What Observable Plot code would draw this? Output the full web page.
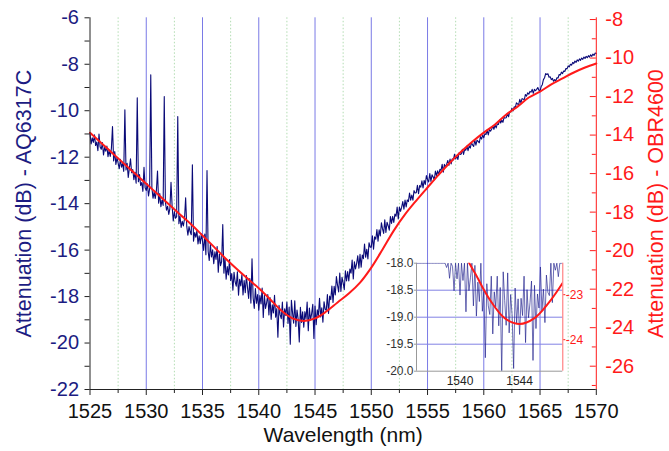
<!DOCTYPE html>
<html><head><meta charset="utf-8">
<script src="https://cdn.jsdelivr.net/npm/d3@7"></script>
<script src="https://cdn.jsdelivr.net/npm/@observablehq/plot@0.6"></script>
<style>
body{margin:0;background:#fff;}
#chart{position:relative;width:669px;height:451px;}
</style></head><body><div id="chart"></div>
<script>
// ---- data ----
const blueStart = 1525, blueStep = 0.1; // AQ6317C sampling grid (nm)
const blueValues = [
-10.97,-11.43,-11.17,-11.36,-11.04,-11.50,-11.35,-11.72,-11.00,-11.56,
-11.66,-11.37,-11.90,-11.58,-11.74,-11.52,-11.98,-11.69,-11.97,-11.63,
-10.68,-12.16,-11.76,-12.31,-12.02,-12.25,-12.50,-12.09,-12.43,-12.27,
-12.61,-9.96,-12.55,-12.26,-12.87,-12.47,-12.07,-12.67,-12.53,-12.97,
-12.65,-13.12,-9.44,-13.06,-12.75,-13.22,-13.09,-13.47,-12.43,-13.32,
-13.43,-13.15,-13.67,-13.36,-8.45,-13.31,-13.77,-13.49,-13.78,-13.43,
-12.60,-13.98,-13.57,-14.13,-13.85,-14.08,-9.39,-13.93,-14.28,-14.11,
-14.46,-14.21,-13.08,-14.12,-14.74,-14.34,-14.63,-14.56,-10.25,-14.86,
-14.55,-15.02,-14.76,-14.96,-14.65,-13.75,-14.98,-15.36,-14.99,-15.21,
-15.34,-12.33,-15.62,-15.24,-15.44,-15.17,-15.73,-15.38,-15.72,-15.30,
-15.61,-16.01,-15.31,-16.20,-12.57,-16.05,-16.45,-15.75,-16.29,-15.99,
-16.58,-16.07,-16.40,-15.85,-16.95,-16.17,-16.67,-16.49,-14.90,-16.99,
-16.35,-17.25,-16.71,-17.07,-16.41,-17.31,-17.01,-17.73,-16.95,-17.37,
-17.55,-16.93,-17.94,-17.26,-17.54,-17.05,-17.93,-17.31,-17.83,-17.10,
-17.62,-18.08,-17.22,-18.28,-16.37,-18.06,-18.51,-17.65,-18.29,-17.91,
-18.59,-17.96,-18.32,-17.63,-18.90,-17.95,-18.51,-18.27,-17.91,-18.79,
-18.04,-18.98,-18.35,-18.71,-17.94,-18.89,-18.52,-19.75,-18.38,-18.79,
-18.95,-18.24,-19.31,-18.53,-18.81,-18.24,-19.16,-18.45,-20.05,-18.16,
-18.69,-19.15,-18.18,-19.29,-18.58,-18.97,-19.95,-18.46,-19.11,-18.66,
-19.32,-18.65,-18.97,-18.24,-19.47,-18.49,-19.01,-18.73,-18.33,-19.80,
-18.41,-19.21,-18.57,-18.83,-18.07,-18.88,-18.48,-19.10,-18.22,-18.54,
-18.60,-17.91,-18.73,-17.98,-18.13,-17.55,-18.25,-17.56,-17.93,-17.14,
-17.51,-17.80,-16.99,-17.78,-17.17,-17.41,-17.70,-16.89,-17.33,-16.92,
-17.33,-16.81,-16.99,-16.43,-17.24,-16.50,-16.81,-16.57,-16.24,-16.78,
-16.18,-16.74,-16.21,-16.37,-15.74,-16.31,-15.96,-16.38,-15.68,-15.87,
-15.87,-15.38,-15.96,-15.43,-15.53,-15.12,-15.62,-15.13,-15.39,-14.82,
-15.09,-15.28,-14.70,-15.24,-14.80,-14.95,-15.14,-14.56,-14.85,-14.55,
-14.81,-14.45,-14.54,-14.15,-14.66,-14.15,-14.33,-14.15,-13.91,-14.24,
-13.85,-14.14,-13.84,-13.91,-13.54,-13.85,-13.63,-13.85,-13.44,-13.54,
-13.53,-13.21,-13.57,-13.22,-13.29,-13.02,-13.32,-13.00,-13.17,-12.79,
-12.96,-13.07,-12.70,-13.04,-12.76,-12.85,-12.97,-12.60,-12.79,-12.59,
-12.76,-12.52,-12.57,-12.31,-12.65,-12.31,-12.42,-12.30,-12.14,-12.35,
-12.08,-12.29,-12.07,-12.12,-11.87,-12.08,-11.94,-12.10,-11.81,-11.88,
-11.86,-11.66,-11.88,-11.66,-11.70,-11.52,-11.72,-11.51,-11.61,-11.37,
-11.47,-11.54,-11.26,-11.48,-11.27,-11.32,-11.38,-11.11,-11.22,-11.06,
-11.16,-10.99,-11.02,-10.83,-11.04,-10.81,-10.88,-10.79,-10.67,-10.80,
-10.61,-10.74,-10.57,-10.59,-10.40,-10.53,-10.41,-10.50,-10.29,-10.31,
-10.30,-10.12,-10.26,-10.05,-10.05,-9.89,-10.01,-9.83,-9.87,-9.66,
-9.71,-9.74,-9.51,-9.66,-9.48,-9.50,-9.53,-9.30,-9.37,-9.23,
-9.29,-9.17,-9.20,-9.08,-9.25,-9.08,-9.14,-9.08,-9.00,-9.12,
-9.14,-8.96,-8.88,-8.66,-8.58,-8.40,-8.44,-8.41,-8.56,-8.54,
-8.66,-8.61,-8.73,-8.66,-8.72,-8.58,-8.59,-8.44,-8.46,-8.34,
-8.40,-8.29,-8.31,-8.18,-8.20,-8.07,-8.11,-8.00,-8.04,-7.92,
-7.97,-7.86,-7.92,-7.81,-7.87,-7.77,-7.83,-7.73,-7.79,-7.69,
-7.75,-7.66,-7.72,-7.63,-7.69,-7.59,-7.66,-7.56,-7.62,-7.52,
-7.54
];
const redWavelengths = [1525,1526,1527,1528,1529,1530,1531,1532,1533,1534,1535,1536,1537,1538,1539,1540,1541,1542,1543,1544,1545,1546,1547,1548,1549,1550,1551,1552,1553,1554,1555,1556,1557,1558,1559,1560,1561,1562,1563,1564,1565,1566,1567,1568,1569,1570];
const redValues = [-13.88,-14.41,-14.94,-15.47,-16.00,-16.53,-17.06,-17.59,-18.12,-18.64,-19.21,-19.79,-20.38,-20.93,-21.45,-21.95,-22.52,-23.11,-23.52,-23.65,-23.52,-23.16,-22.69,-22.23,-21.66,-20.88,-19.94,-18.96,-18.12,-17.40,-16.72,-16.05,-15.42,-14.85,-14.33,-13.87,-13.45,-12.93,-12.52,-12.05,-11.74,-11.37,-11.06,-10.75,-10.49,-10.28];

const xMajorTicks = [1525,1530,1535,1540,1545,1550,1555,1560,1565,1570];
const xMinorTicks = [1527.5,1532.5,1537.5,1542.5,1547.5,1552.5,1557.5,1562.5,1567.5];
const gridMajor = [1530,1535,1540,1545,1550,1555,1560,1565];
const gridMinor = [1527.5,1532.5,1537.5,1542.5,1547.5,1552.5,1557.5,1562.5,1567.5];
const leftMajorTicks = [-22,-20,-18,-16,-14,-12,-10,-8,-6];
const leftMinorTicks = [-21,-19,-17,-15,-13,-11,-9,-7];
const rightMajorTicks = [-26,-24,-22,-20,-18,-16,-14,-12,-10,-8];
const rightMinorTicks = [-27,-25,-23,-21,-19,-17,-15,-13,-11,-9];
const insetXTicks = [1540,1544];
const insetYTicks = [-20,-19.5,-19,-18.5,-18];
const insetGrid = [-19.5,-19,-18.5];
const insetRightTicks = [-24,-23];

const xTitle = "Wavelength (nm)";
const leftTitle = "Attenuation (dB) - AQ6317C";
const rightTitle = "Attenuation (dB) - OBR4600";

// ---- scales / layout ----
const W = 669, H = 451, mL = 89.5, mR = 73.2, mT = 17.3, mB = 62;
const plotW = W - mL - mR;
const xDomain = [1525, 1570];
const leftDomain = [-22, -6];
const rightDomain = [-27.21, -7.91];
const rightToLeft = d3.scaleLinear().domain(rightDomain).range(leftDomain);
const insetXDomain = [1537.08, 1546.9];
const insetYDomain = [-20, -18];
const insetRightDomain = [-24.7, -22.3];
const insetRightToLeft = d3.scaleLinear().domain(insetRightDomain).range(insetYDomain);

const blue = blueValues.map((v, i) => ({w: blueStart + i * blueStep, v}));
const redData = redWavelengths.map((w, i) => ({w, r: redValues[i]}));

const FONT = '"Liberation Sans", Arial, Helvetica, sans-serif';
const NAVY = "#1c1c82", RED = "#ff1a1a", TRACE = "#0a0a78";

const main = Plot.plot({
  width: W, height: H, marginLeft: mL, marginRight: mR, marginTop: mT, marginBottom: mB,
  style: {fontFamily: FONT, background: "white", overflow: "visible"},
  x: {domain: xDomain, label: null},
  y: {domain: leftDomain, label: null},
  marks: [
    Plot.ruleX(gridMinor, {stroke: "#b2dcb2", strokeDasharray: "1.5,2"}),
    Plot.ruleX(gridMajor, {stroke: "#7a7ae6", strokeWidth: 1}),
    Plot.line(blue, {x: "w", y: "v", stroke: TRACE, strokeWidth: 1.1}),
    Plot.line(redData, {x: "w", y: d => rightToLeft(d.r), stroke: RED, strokeWidth: 2, curve: "catmull-rom"}),
    Plot.ruleX([xDomain[0]], {stroke: "#222"}),
    Plot.ruleY([leftDomain[0]], {stroke: "#222"}),
    Plot.ruleX([xDomain[1]], {stroke: RED}),
    Plot.axisX({ticks: xMajorTicks, tickSize: 6, tickPadding: 8, fontSize: 20, tickFormat: d => String(d), label: null, stroke: "#222", fill: "#111"}),
    Plot.axisX({ticks: xMinorTicks, tickSize: 4, tickFormat: () => "", label: null, stroke: "#222"}),
    Plot.axisY({ticks: leftMajorTicks, tickSize: 5, tickPadding: 6, fontSize: 20, tickFormat: d => String(d), label: null, stroke: "#222", fill: NAVY}),
    Plot.axisY({ticks: leftMinorTicks, tickSize: 5, tickFormat: () => "", label: null, stroke: "#222"}),
    Plot.tickY(rightMajorTicks, {y: d => rightToLeft(d), stroke: RED, insetLeft: plotW - 6}),
    Plot.tickY(rightMinorTicks, {y: d => rightToLeft(d), stroke: RED, insetLeft: plotW - 4}),
    Plot.axisY({anchor: "right", ticks: rightMajorTicks.map(d => rightToLeft(d)), tickSize: 0, tickPadding: 9, fontSize: 20,
      tickFormat: d => String(Math.round(rightToLeft.invert(d))), label: null, fill: RED}),
    Plot.text([xTitle], {text: d => d, frameAnchor: "bottom", textAnchor: "middle", lineAnchor: "middle", dy: 46, fontSize: 21, fill: "#111"}),
    Plot.text([leftTitle], {text: d => d, frameAnchor: "left", textAnchor: "middle", lineAnchor: "middle", rotate: -90, dx: -66, fontSize: 21.5, fill: NAVY}),
    Plot.text([rightTitle], {text: d => d, frameAnchor: "right", textAnchor: "middle", lineAnchor: "middle", rotate: -90, dx: 60, fontSize: 21.5, fill: RED})
  ]
});

const inset = Plot.plot({
  width: 226, height: 150, marginLeft: 40, marginRight: 39.7, marginTop: 12.7, marginBottom: 29.3,
  style: {fontFamily: FONT, background: "transparent", overflow: "visible", position: "absolute", left: "376px", top: "250px"},
  x: {domain: insetXDomain, label: null},
  y: {domain: insetYDomain, label: null},
  marks: [
    Plot.ruleY(insetGrid, {stroke: "#8282e4"}),
    Plot.line(blue, {x: "w", y: d => Math.min(d.v, insetYDomain[1]), clip: true, stroke: "#23238f", strokeWidth: 0.8, strokeOpacity: 0.85}),
    Plot.line(redData, {x: "w", y: d => insetRightToLeft(d.r), clip: true, stroke: RED, strokeWidth: 2, curve: "catmull-rom"}),
    Plot.ruleX([insetXDomain[0]], {stroke: "#999"}),
    Plot.ruleY([insetYDomain[0]], {stroke: "#999"}),
    Plot.ruleX([insetXDomain[1]], {stroke: "#ff6a6a"}),
    Plot.axisX({ticks: insetXTicks, tickSize: 0, tickPadding: 5, fontSize: 12, tickFormat: d => String(d), label: null, fill: "#222"}),
    Plot.axisY({ticks: insetYTicks, tickSize: 2, tickPadding: 1, fontSize: 12, tickFormat: d => d.toFixed(1), label: null, fill: "#333", stroke: "#999"}),
    Plot.axisY({anchor: "right", ticks: insetRightTicks.map(d => insetRightToLeft(d)), tickSize: 2, tickPadding: 1, fontSize: 12,
      tickFormat: d => String(Math.round(insetRightToLeft.invert(d))), label: null, fill: RED, stroke: RED})
  ]
});

const root = document.getElementById("chart");
root.appendChild(main);
root.appendChild(inset);
</script>
</body></html>
